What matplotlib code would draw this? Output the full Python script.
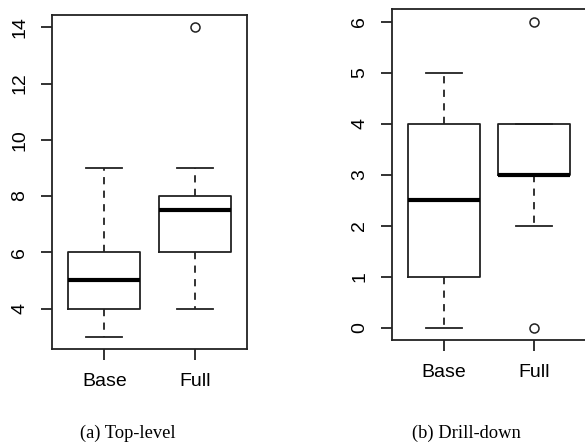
import matplotlib
matplotlib.use("Agg")
import matplotlib.pyplot as plt

# data
groups = ["Base", "Full"]

# (a) Top-level
top_q1 = [4, 6]
top_med = [5, 7.5]
top_q3 = [6, 8]
top_lo = [3, 4]
top_hi = [9, 9]
top_out = [[], [14]]
top_ticks = [4, 6, 8, 10, 12, 14]

# (b) Drill-down
drill_q1 = [1, 3]
drill_med = [2.5, 3]
drill_q3 = [4, 4]
drill_lo = [0, 2]
drill_hi = [5, 4]
drill_out = [[], [6, 0]]
drill_ticks = [0, 1, 2, 3, 4, 5, 6]

captions = ["(a) Top-level", "(b) Drill-down"]

ink = "#222222"
sans = "Liberation Sans"
lw = 1.3


def r_boxplot(ax, q1, med, q3, lo, hi, out, ticks):
    stats = []
    for i in range(len(groups)):
        stats.append(dict(med=med[i], q1=q1[i], q3=q3[i], whislo=lo[i],
                          whishi=hi[i], fliers=out[i], label=groups[i]))
    ax.bxp(stats, positions=[1, 2], widths=0.8, capwidths=0.4,
           boxprops=dict(color=ink, linewidth=lw),
           whiskerprops=dict(color=ink, linewidth=lw, linestyle=(0, (4, 3.5))),
           capprops=dict(color=ink, linewidth=lw),
           medianprops=dict(color="black", linewidth=3),
           flierprops=dict(marker="o", markerfacecolor="none",
                           markeredgecolor=ink, markersize=6.5,
                           markeredgewidth=1.1))
    # R style range: data range plus 4% each side
    allv = lo + hi + [v for o in out for v in o]
    a, b = min(allv), max(allv)
    pad = 0.04 * (b - a)
    ax.set_ylim(a - pad, b + pad)
    ax.set_xlim(0.42, 2.58)
    ax.set_yticks(ticks)
    ax.set_yticklabels([str(t) for t in ticks], rotation=90, va="center",
                       family=sans, fontsize=14)
    ax.set_xticks([1, 2])
    ax.set_xticklabels(groups, family=sans, fontsize=14)
    ax.tick_params(axis="y", length=8, width=lw, color=ink, pad=9)
    ax.tick_params(axis="x", length=8, width=lw, color=ink, pad=9)
    for s in ax.spines.values():
        s.set_color(ink)
        s.set_linewidth(lw)


fig = plt.figure(figsize=(5.85, 4.43), dpi=100)
ax1 = fig.add_axes([0.0889, 0.2122, 0.3333, 0.754])
ax2 = fig.add_axes([0.6696, 0.2325, 0.332, 0.7465])

r_boxplot(ax1, top_q1, top_med, top_q3, top_lo, top_hi, top_out, top_ticks)
r_boxplot(ax2, drill_q1, drill_med, drill_q3, drill_lo, drill_hi, drill_out, drill_ticks)

fig.text(127.5 / 585, 1 - 433 / 443, captions[0], ha="center", va="center",
         family="Liberation Serif", fontsize=13.3)
fig.text(466 / 585, 1 - 433 / 443, captions[1], ha="center", va="center",
         family="Liberation Serif", fontsize=13.3)

fig.savefig("out.png", dpi=100)
